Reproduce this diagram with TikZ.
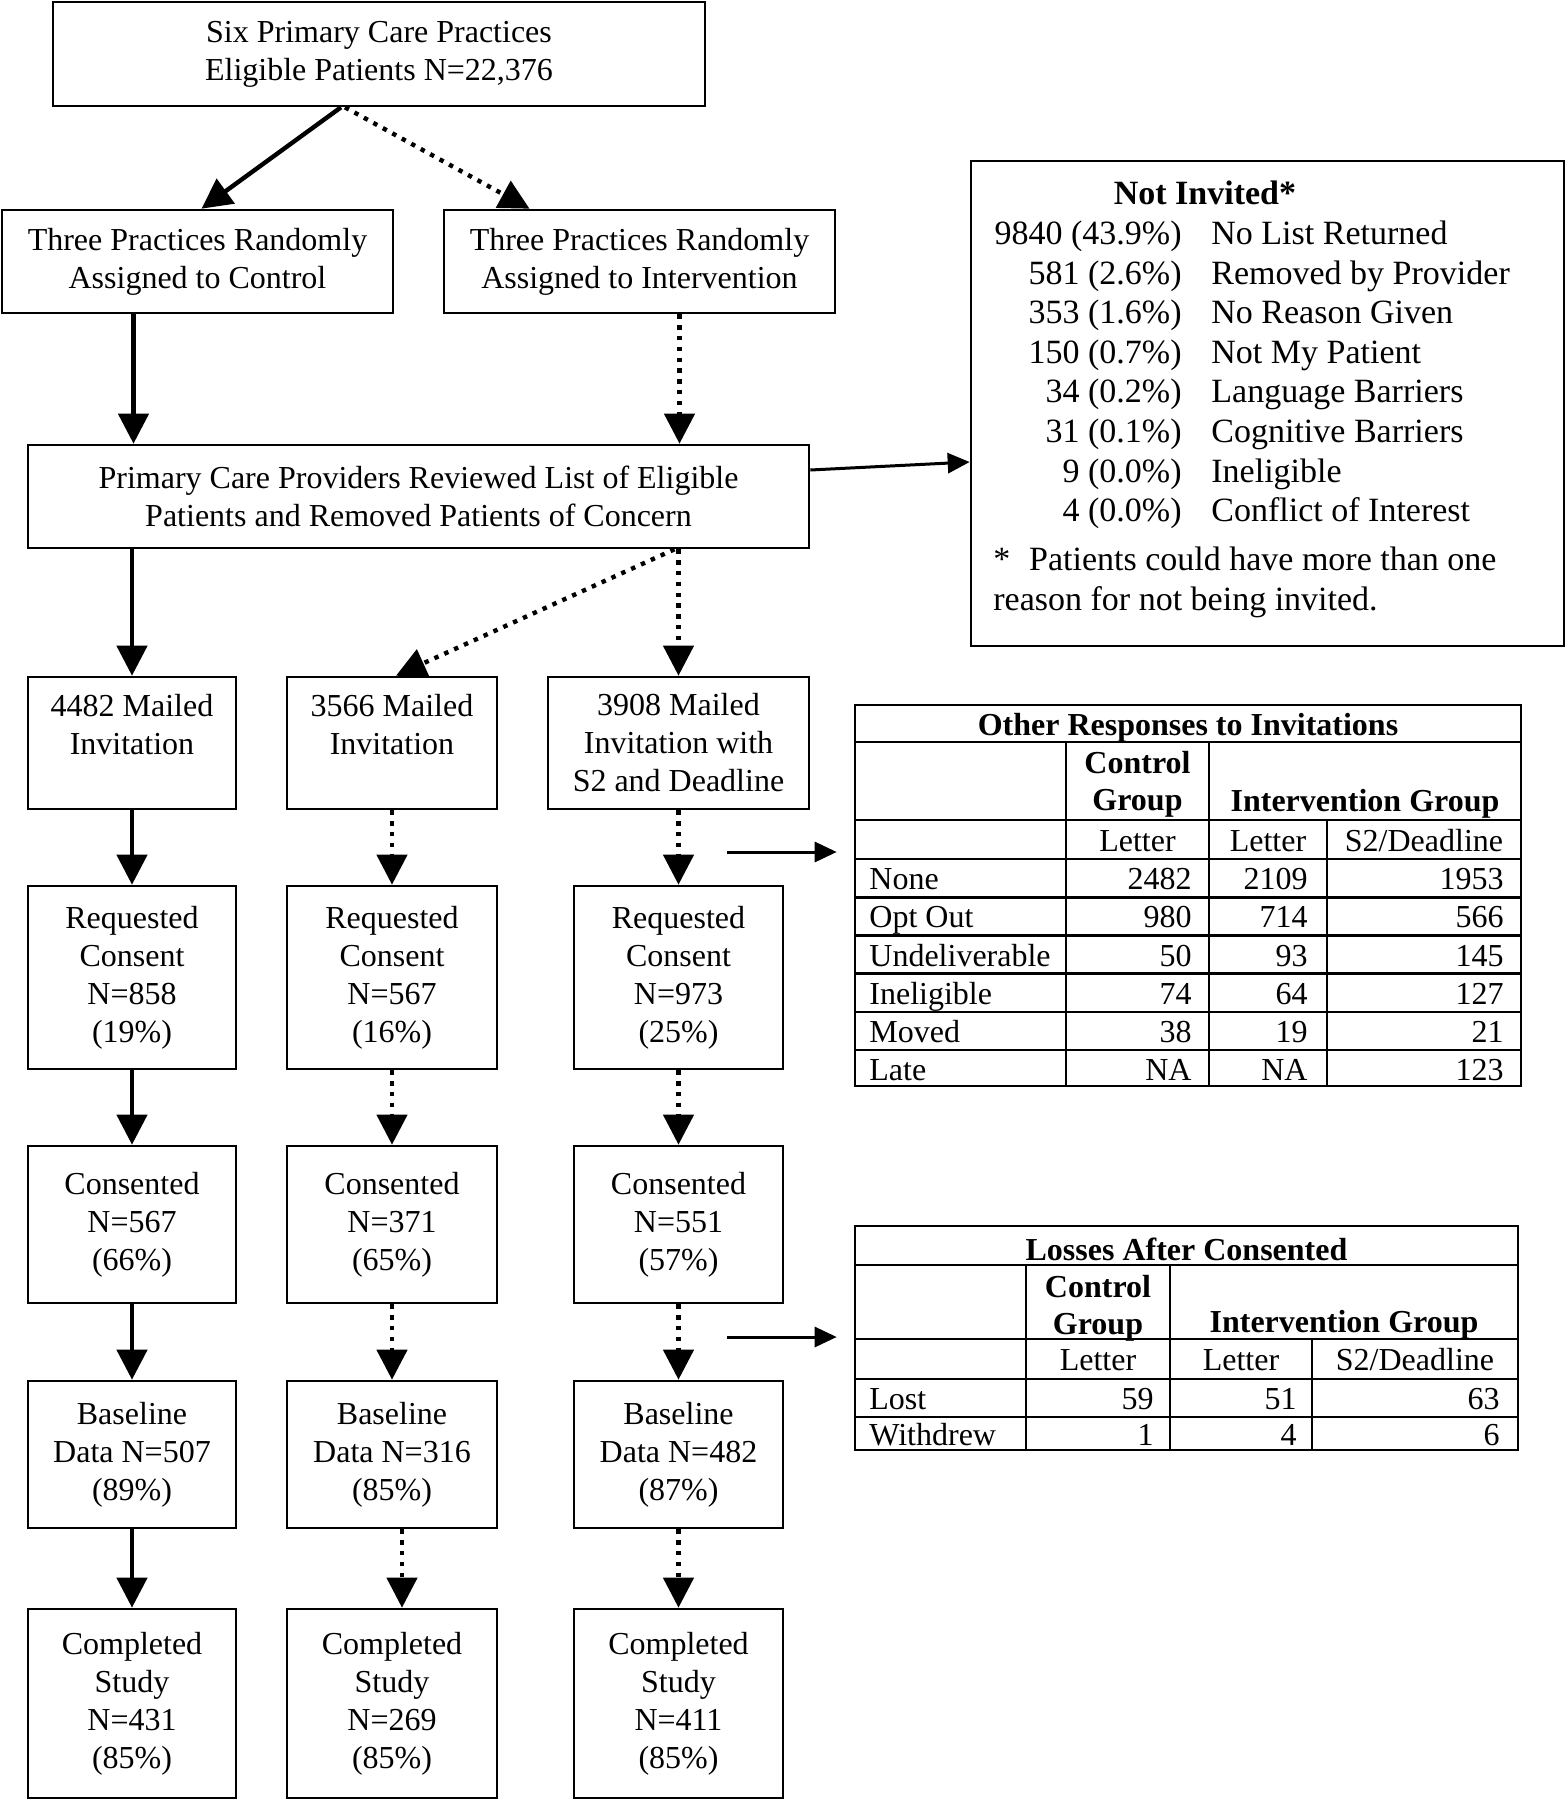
\documentclass[tikz,border=0pt]{standalone}
\usepackage{fontspec}
\setmainfont{Liberation Serif}
\usetikzlibrary{arrows.meta,calc}
\tikzset{
 box/.style={draw, line width=1.3pt, align=center, inner sep=0pt, font=\fontsize{16}{19}\selectfont},
 solidarr/.style={line width=2.2pt, -{Triangle[width=15pt,length=15pt]}},
 dotarr/.style={line width=2.2pt, dash pattern=on 2.2pt off 3.2pt, -{Triangle[width=15pt,length=15pt]}},
 thinarr/.style={line width=1.5pt, -{Triangle[width=10pt,length=11pt]}},
 tframe/.style={draw, line width=1.3pt, inner sep=0pt},
 tline/.style={line width=1.3pt},
 ttext/.style={inner sep=0pt, yshift=-2pt, font=\fontsize{16}{19}\selectfont, text height=11pt, text depth=3.5pt},
 thead/.style={inner sep=0pt, yshift=-2pt, align=center, font=\fontsize{16}{18.5}\selectfont\bfseries},
 nitext/.style={inner sep=0pt, yshift=-2pt, font=\fontsize{17}{20}\selectfont, text height=12pt, text depth=3.5pt},
}
\begin{document}
\begin{tikzpicture}[x=0.5pt,y=-0.5pt]
\useasboundingbox (0,0) rectangle (1566,1800);

% top part
\node[box, minimum width=326pt, minimum height=52pt] (top) at (379,54) {Six Primary Care Practices\\Eligible Patients N=22,376};
\node[box, minimum width=195.5pt, minimum height=51.5pt] (ctrl) at (197.5,261.5) {Three Practices Randomly\\Assigned to Control};
\node[box, minimum width=195.5pt, minimum height=51.5pt] (intv) at (639.5,261.5) {Three Practices Randomly\\Assigned to Intervention};
\node[box, minimum width=390.5pt, minimum height=51.5pt] (pcp) at (418.5,496.5) {Primary Care Providers Reviewed List of Eligible\\Patients and Removed Patients of Concern};
\node[box, minimum width=296.5pt, minimum height=242.5pt] (notinv) at (1267.5,403.5) {};

% Not invited content
\node[nitext, font=\fontsize{17}{20}\selectfont\bfseries] (nititle) at (1205,192) {Not Invited*};
\foreach \n/\r [count=\i] in {9840 (43.9\%)/No List Returned, 581 (2.6\%)/Removed by Provider, 353 (1.6\%)/No Reason Given, 150 (0.7\%)/Not My Patient, 34 (0.2\%)/Language Barriers, 31 (0.1\%)/Cognitive Barriers, 9 (0.0\%)/Ineligible, 4 (0.0\%)/Conflict of Interest} {
  \node[nitext, anchor=east] (nin\i) at (1182,{232+39.6*(\i-1)}) {\n};
  \node[nitext, anchor=west] (nir\i) at (1211,{232+39.6*(\i-1)}) {\r};
}
\node[nitext, anchor=west] (nifoot1) at (993,558) {*\hspace{0.55em}Patients could have more than one};
\node[nitext, anchor=west] (nifoot2) at (993,598) {reason for not being invited.};

% columns
\node[box, minimum width=104pt, minimum height=66pt] (mail1) at (132,743) {4482 Mailed\\Invitation\\\mbox{}};
\node[box, minimum width=105pt, minimum height=66pt] (mail2) at (392,743) {3566 Mailed\\Invitation\\\mbox{}};
\node[box, minimum width=130.5pt, minimum height=66pt] (mail3) at (678.5,743) {3908 Mailed\\Invitation with\\S2 and Deadline};

\node[box, minimum width=104pt, minimum height=91.5pt] (req1) at (132,977.5) {Requested\\Consent\\N=858\\(19\%)};
\node[box, minimum width=105pt, minimum height=91.5pt] (req2) at (392,977.5) {Requested\\Consent\\N=567\\(16\%)};
\node[box, minimum width=104.5pt, minimum height=91.5pt] (req3) at (678.5,977.5) {Requested\\Consent\\N=973\\(25\%)};

\node[box, minimum width=104pt, minimum height=78.5pt] (cons1) at (132,1224.5) {Consented\\N=567\\(66\%)};
\node[box, minimum width=105pt, minimum height=78.5pt] (cons2) at (392,1224.5) {Consented\\N=371\\(65\%)};
\node[box, minimum width=104.5pt, minimum height=78.5pt] (cons3) at (678.5,1224.5) {Consented\\N=551\\(57\%)};

\node[box, minimum width=104pt, minimum height=73.5pt] (base1) at (132,1454.5) {Baseline\\Data N=507\\(89\%)};
\node[box, minimum width=105pt, minimum height=73.5pt] (base2) at (392,1454.5) {Baseline\\Data N=316\\(85\%)};
\node[box, minimum width=104.5pt, minimum height=73.5pt] (base3) at (678.5,1454.5) {Baseline\\Data N=482\\(87\%)};

\node[box, minimum width=104pt, minimum height=94.5pt] (comp1) at (132,1703.5) {Completed\\Study\\N=431\\(85\%)};
\node[box, minimum width=105pt, minimum height=94.5pt] (comp2) at (392,1703.5) {Completed\\Study\\N=269\\(85\%)};
\node[box, minimum width=104.5pt, minimum height=94.5pt] (comp3) at (678.5,1703.5) {Completed\\Study\\N=411\\(85\%)};

% arrows top
\draw[solidarr] ([xshift=-19pt]top.south) -- ([xshift=2pt]ctrl.north);
\draw[dotarr] ([xshift=-17pt]top.south) -- ([xshift=-55pt]intv.north);
\draw[solidarr] ([xshift=-32pt]ctrl.south) -- ([xshift=-32pt]ctrl.south |- pcp.north);
\draw[dotarr] ([xshift=20pt]intv.south) -- ([xshift=20pt]intv.south |- pcp.north);
\draw[thinarr] ([yshift=13.25pt]pcp.east) -- ([yshift=-29.25pt]notinv.west);
\draw[solidarr] (pcp.south -| mail1.north) -- (mail1.north);
\draw[dotarr] ([xshift=128pt]pcp.south) -- ([xshift=2pt]mail2.north);
\draw[dotarr] (pcp.south -| mail3.north) -- (mail3.north);

% column arrows
\draw[solidarr] (mail1.south) -- (req1.north);
\draw[solidarr] (req1.south) -- (cons1.north);
\draw[solidarr] (cons1.south) -- (base1.north);
\draw[solidarr] (base1.south) -- (comp1.north);
\draw[dotarr] (mail2.south) -- (req2.north);
\draw[dotarr] (req2.south) -- (cons2.north);
\draw[dotarr] (cons2.south) -- (base2.north);
\draw[dotarr] ([xshift=5pt]base2.south) -- ([xshift=5pt]comp2.north);
\draw[dotarr] (mail3.south) -- (req3.north);
\draw[dotarr] (req3.south) -- (cons3.north);
\draw[dotarr] (cons3.south) -- (base3.north);
\draw[dotarr] (base3.south) -- (comp3.north);

% table 1
\node[tframe, minimum width=333pt, minimum height=190.5pt] (tab1) at (1188,895.5) {};
\draw[tline] (855,742) -- (1521,742);
\draw[tline] (855,820) -- (1521,820);
\foreach \k in {0,...,5} { \draw[tline] (855,{859+38.2*\k}) -- (1521,{859+38.2*\k}); }
\draw[tline] (1066,742) -- (1066,1086);
\draw[tline] (1209,742) -- (1209,1086);
\draw[tline] (1327,820) -- (1327,1086);
\node[thead] (t1title) at (1188,723.5) {Other Responses to Invitations};
\node[thead] (t1ctrl) at (1137.5,780.5) {Control\\Group};
\node[thead] (t1intv) at (1365,800) {Intervention Group};
\node[ttext] (t1s1) at (1137.5,839.5) {Letter};
\node[ttext] (t1s2) at (1268,839.5) {Letter};
\node[ttext] (t1s3) at (1424,839.5) {S2/Deadline};
\foreach \lab/\a/\b/\c [count=\i] in {None/2482/2109/1953, Opt Out/980/714/566, Undeliverable/50/93/145, Ineligible/74/64/127, Moved/38/19/21, Late/NA/NA/123} {
  \node[ttext, anchor=west] (t1l\i) at (869,{840+38.2*\i}) {\lab};
  \node[ttext, anchor=east] (t1a\i) at (1192,{840+38.2*\i}) {\a};
  \node[ttext, anchor=east] (t1b\i) at (1308,{840+38.2*\i}) {\b};
  \node[ttext, anchor=east] (t1c\i) at (1504,{840+38.2*\i}) {\c};
}
\coordinate (t1s) at (727,852);
\draw[thinarr] (t1s) -- ([xshift=-8.5pt]tab1.west |- t1s);

% table 2
\node[tframe, minimum width=331.5pt, minimum height=112pt] (tab2) at (1186.5,1338) {};
\draw[tline] (855,1265) -- (1518,1265);
\draw[tline] (855,1339) -- (1518,1339);
\draw[tline] (855,1379) -- (1518,1379);
\draw[tline] (855,1417) -- (1518,1417);
\draw[tline] (1026,1265) -- (1026,1450);
\draw[tline] (1170,1265) -- (1170,1450);
\draw[tline] (1312,1339) -- (1312,1450);
\node[thead] (t2title) at (1186.5,1245.5) {Losses After Consented};
\node[thead] (t2ctrl) at (1098,1304) {Control\\Group};
\node[thead] (t2intv) at (1344,1321) {Intervention Group};
\node[ttext] (t2s1) at (1098,1359) {Letter};
\node[ttext] (t2s2) at (1241,1359) {Letter};
\node[ttext] (t2s3) at (1415,1359) {S2/Deadline};
\node[ttext, anchor=west] (t2l1) at (869,1398) {Lost};
\node[ttext, anchor=east] (t2a1) at (1154,1398) {59};
\node[ttext, anchor=east] (t2b1) at (1297,1398) {51};
\node[ttext, anchor=east] (t2c1) at (1500,1398) {63};
\node[ttext, anchor=west] (t2l2) at (869,1433.5) {Withdrew};
\node[ttext, anchor=east] (t2a2) at (1154,1433.5) {1};
\node[ttext, anchor=east] (t2b2) at (1297,1433.5) {4};
\node[ttext, anchor=east] (t2c2) at (1500,1433.5) {6};
\coordinate (t2s) at (727,1337);
\draw[thinarr] (t2s) -- ([xshift=-8.5pt]tab2.west |- t2s);
\end{tikzpicture}
\end{document}
